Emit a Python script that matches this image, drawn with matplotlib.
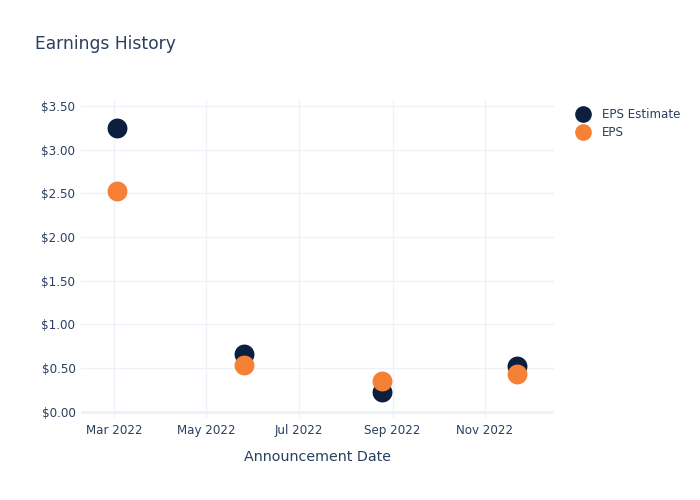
import matplotlib
matplotlib.use("Agg")
import matplotlib.pyplot as plt
import matplotlib.dates as mdates
from matplotlib.lines import Line2D
import datetime as dt

dates = ["2022-03-03", "2022-05-26", "2022-08-25", "2022-11-22"]
eps_estimate = [3.245, 0.655, 0.23, 0.52]
eps_actual = [2.53, 0.54, 0.355, 0.43]
tick_dates = ["2022-03-01", "2022-05-01", "2022-07-01", "2022-09-01", "2022-11-01"]
tick_labels = ["Mar 2022", "May 2022", "Jul 2022", "Sep 2022", "Nov 2022"]
y_ticks = [0, 0.5, 1.0, 1.5, 2.0, 2.5, 3.0, 3.5]

navy = "#0c1f3f"
orange = "#f58137"
txt = "#2a3f5f"
grid = "#edf1f8"

plt.rcParams['font.family'] = ['DejaVu Sans']

W, H = 700, 500
fig = plt.figure(figsize=(7, 5), dpi=100)
left, right, top, bottom = 81, 553.7, 100, 418
ax = fig.add_axes([left / W, 1 - bottom / H, (right - left) / W, (bottom - top) / H])

xd = [dt.datetime.fromisoformat(d) for d in dates]
ax.scatter(xd, eps_estimate, s=205, color=navy, zorder=3, linewidths=0)
ax.scatter(xd, eps_actual, s=205, color=orange, zorder=4, linewidths=0)

ax.set_xlim(dt.datetime(2022, 2, 7, 8), dt.datetime(2022, 12, 16, 10))
ax.set_ylim(-0.0725, 3.569)
ax.set_xticks([dt.datetime.fromisoformat(d) for d in tick_dates])
ax.set_xticklabels(tick_labels)
ax.set_yticks(y_ticks)
ax.set_yticklabels([f"${v:.2f}" for v in y_ticks])

for s in ax.spines.values():
    s.set_visible(False)
ax.grid(True, color=grid, linewidth=1, zorder=0)
ax.axhline(0, color=grid, linewidth=2, zorder=1)
ax.tick_params(length=0, colors=txt, labelsize=8.6, pad=4)
ax.tick_params(axis='y', pad=4)
ax.set_xlabel("Announcement Date", color=txt, fontsize=10.3, labelpad=10)

fig.text(35 / W, 1 - 44 / H, "Earnings History", color=txt, fontsize=12.3, va="center", ha="left")

handles = [Line2D([], [], marker='o', linestyle='', markersize=12, color=navy, markeredgewidth=0),
           Line2D([], [], marker='o', linestyle='', markersize=12, color=orange, markeredgewidth=0)]
leg = fig.legend(handles, ["EPS Estimate", "EPS"], loc="upper left",
                 bbox_to_anchor=(569 / W, 1 - 103 / H), frameon=False,
                 fontsize=8.6, handletextpad=0.85, labelspacing=0.45, borderaxespad=0,
                 handlelength=1.5)
for t in leg.get_texts():
    t.set_color(txt)

fig.savefig("out.png", dpi=100)
